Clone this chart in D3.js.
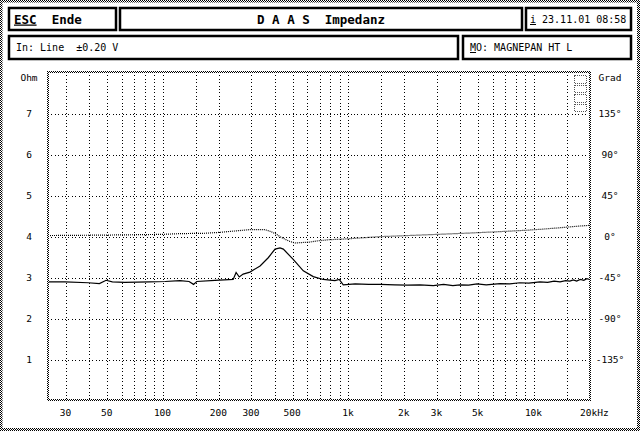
<!DOCTYPE html>
<html><head><meta charset="utf-8">
<script src="https://cdn.jsdelivr.net/npm/d3@7"></script>
<style>
body{margin:0;background:#fff}
svg{display:block}
text{font-family:"DejaVu Sans Mono","Liberation Mono",monospace;fill:#000}
</style>
</head><body>
<svg id="c" width="640" height="431"></svg>
<script>
// ---------- data ----------
const freqTicks = [30, 50, 100, 200, 300, 500, 1000, 2000, 3000, 5000, 10000, 20000];
const freqTickLabels = ["30", "50", "100", "200", "300", "500", "1k", "2k", "3k", "5k", "10k", "20kHz"];
const freqGrid = [30,40,50,60,70,80,90,100,150,200,300,400,500,600,700,800,900,1000,1500,2000,3000,4000,5000,6000,7000,8000,9000,10000,15000];
const ohmTicks = [1, 2, 3, 4, 5, 6, 7];
const degTicks = [135, 90, 45, 0, -45, -90, -135];

const impFreq = [24.3, 30, 40, 46, 50, 54, 63, 86, 104, 125, 140, 148, 154, 193, 242, 251, 261, 274, 298, 338, 374, 407, 433, 451, 510, 578, 654, 740, 856, 903, 949, 1100, 1300, 1500, 1800, 2100, 2460, 2900, 3300, 3700, 4040, 4500, 5000, 5600, 6640, 7500, 8500, 9500, 10900, 12000, 13000, 14000, 15000, 15800, 16500, 17200, 18000, 18800, 19500, 20300];
const impOhm  = [2.88, 2.88, 2.86, 2.84, 2.92, 2.88, 2.87, 2.88, 2.89, 2.91, 2.89, 2.82, 2.89, 2.92, 2.94, 3.11, 3.00, 3.07, 3.12, 3.27, 3.47, 3.68, 3.71, 3.68, 3.43, 3.15, 3.01, 2.94, 2.91, 2.94, 2.81, 2.83, 2.82, 2.82, 2.81, 2.80, 2.81, 2.79, 2.82, 2.79, 2.81, 2.80, 2.83, 2.81, 2.84, 2.83, 2.86, 2.85, 2.88, 2.87, 2.90, 2.88, 2.91, 2.90, 2.93, 2.90, 2.94, 2.92, 2.96, 2.94];

const phFreq = [24.3, 50, 100, 125, 170, 205, 247, 298, 359, 382, 410, 433, 460, 490, 521, 570, 628, 700, 805, 969, 1200, 1497, 2000, 3150, 4500, 6640, 9000, 10900, 13500, 15800, 18000, 20300];
const phDeg  = [0.5, 1.0, 1.8, 2.6, 3.0, 4.0, 5.5, 7.0, 7.0, 5.2, 2.5, -0.7, -3.5, -6.0, -7.7, -7.2, -6.6, -5.2, -4.0, -3.3, -2.0, -0.7, 0.3, 1.9, 3.2, 4.8, 6.2, 7.3, 8.8, 10.0, 11.0, 11.7];

// ---------- layout ----------
const svg = d3.select("#c");
const L = 48, R = 590, T = 72, B = 400;
const x = d3.scaleLog().domain([24.3, 20300]).range([L, R]);
const y = d3.scaleLinear().domain([0, 8]).range([B, T]);
const yDeg = d3.scaleLinear().domain([-180, 180]).range([B, T]);

const defs = svg.append("defs");
const pat = defs.append("pattern").attr("id", "chk").attr("width", 2).attr("height", 2)
  .attr("patternUnits", "userSpaceOnUse");
pat.append("rect").attr("width", 2).attr("height", 2).attr("fill", "#fff");
pat.append("rect").attr("x", 0).attr("y", 0).attr("width", 1).attr("height", 1).attr("fill", "#000");
pat.append("rect").attr("x", 1).attr("y", 1).attr("width", 1).attr("height", 1).attr("fill", "#000");

svg.append("rect").attr("width", 640).attr("height", 431).attr("fill", "#fff");
// outer dithered frame
svg.append("rect").attr("x", 1).attr("y", 1).attr("width", 637.5).attr("height", 428.5)
  .attr("fill", "none").attr("stroke", "url(#chk)").attr("stroke-width", 3);

// ---------- header boxes ----------
function box(x0, y0, x1, y1) {
  svg.append("rect").attr("x", x0).attr("y", y0).attr("width", x1 - x0).attr("height", y1 - y0)
    .attr("fill", "#fff").attr("stroke", "#000").attr("stroke-width", 2.5);
}
box(9, 8, 116, 30);
box(120, 8, 522, 30);
box(526, 8, 631, 30);
box(9, 36, 458, 59);
box(463, 36, 631, 59);

const t1 = svg.append("text").attr("x", 14).attr("y", 23.5).attr("font-size", 12.5).attr("font-weight", "bold");
t1.append("tspan").text("ESC").style("text-decoration", "underline");
t1.append("tspan").attr("xml:space", "preserve").text("  Ende");

svg.append("text").attr("x", 321).attr("y", 23.5).attr("text-anchor", "middle")
  .attr("font-size", 12.5).attr("font-weight", "bold").attr("xml:space", "preserve")
  .text("D A A S  Impedanz");

const t3 = svg.append("text").attr("x", 530).attr("y", 23).attr("font-size", 10);
t3.append("tspan").text("i").style("text-decoration", "underline");
t3.append("tspan").text(" 23.11.01 08:58");

svg.append("text").attr("x", 16).attr("y", 51).attr("font-size", 10).attr("xml:space", "preserve")
  .text("In: Line  \u00B10.20 V");

const t5 = svg.append("text").attr("x", 470).attr("y", 51).attr("font-size", 10);
t5.append("tspan").text("M").style("text-decoration", "underline");
t5.append("tspan").text("O: MAGNEPAN HT L");

// ---------- grid ----------
const gx = svg.append("g").attr("transform", `translate(0,${T})`)
  .call(d3.axisBottom(x).tickValues(freqGrid).tickSize(B - T).tickFormat(""));
gx.select(".domain").remove();
gx.selectAll(".tick line").attr("stroke", "#000").attr("stroke-dasharray", "1,2.4")
  .attr("transform", function(d){ return `translate(${Math.round(x(d)) + 0.5 - x(d)},0)`; })
  .attr("shape-rendering", "crispEdges");

const gy = svg.append("g").attr("transform", `translate(${L},0)`)
  .call(d3.axisRight(y).tickValues(ohmTicks).tickSize(R - L).tickFormat(""));
gy.select(".domain").remove();
gy.selectAll(".tick line").attr("stroke", "#000").attr("stroke-dasharray", "1,2.4")
  .attr("transform", function(d){ return `translate(0,${Math.round(y(d)) + 0.5 - y(d)})`; })
  .attr("shape-rendering", "crispEdges");

// small indicator icon top right
const icon = svg.append("g");
[0, 1, 2, 3].forEach(i => {
  icon.append("rect").attr("x", 574.5).attr("y", 75.5 + i * 9.5).attr("width", 12).attr("height", 7.5)
    .attr("fill", "none").attr("stroke", "#555").attr("stroke-width", 1).attr("stroke-dasharray", "1,1")
    .attr("shape-rendering", "crispEdges");
});

// ---------- curves ----------
const phLine = d3.line().x((d, i) => x(phFreq[i])).y((d, i) => yDeg(phDeg[i])).curve(d3.curveLinear);
svg.append("path").datum(phDeg).attr("d", phLine).attr("fill", "none")
  .attr("stroke", "#000").attr("stroke-width", 1.2).attr("stroke-dasharray", "1,1");

const impLine = d3.line().x((d, i) => x(impFreq[i])).y((d, i) => y(impOhm[i])).curve(d3.curveLinear);
svg.append("path").datum(impOhm).attr("d", impLine).attr("fill", "none")
  .attr("stroke", "#000").attr("stroke-width", 1.2);

// plot frame
svg.append("rect").attr("x", L).attr("y", T).attr("width", R - L).attr("height", B - T)
  .attr("fill", "none").attr("stroke", "url(#chk)").attr("stroke-width", 2);

// ---------- axis labels ----------
const ax = svg.append("g").attr("transform", `translate(0,${B + 6})`)
  .call(d3.axisBottom(x).tickValues(freqTicks).tickSize(0)
    .tickFormat((d, i) => freqTickLabels[i]));
ax.select(".domain").remove();
ax.selectAll("text").attr("font-size", 9.5).attr("dy", "0.71em")
  .style("font-family", "'DejaVu Sans Mono',monospace")
  .attr("dx", (d) => d === 20000 ? 5 : 0);

const al = svg.append("g").attr("transform", "translate(29,0)")
  .call(d3.axisLeft(y).tickValues(ohmTicks).tickSize(0).tickPadding(0));
al.select(".domain").remove();
al.selectAll("text").attr("text-anchor", "middle").attr("font-size", 9.5)
  .style("font-family", "'DejaVu Sans Mono',monospace");
svg.append("text").attr("x", 29).attr("y", 81).attr("text-anchor", "middle").attr("font-size", 9.5).text("Ohm");

const ar = svg.append("g").attr("transform", "translate(610,0)")
  .call(d3.axisRight(yDeg).tickValues(degTicks).tickSize(0).tickPadding(0)
    .tickFormat(d => d + "\u00B0"));
ar.select(".domain").remove();
ar.selectAll("text").attr("text-anchor", "middle").attr("font-size", 9.5)
  .style("font-family", "'DejaVu Sans Mono',monospace");
svg.append("text").attr("x", 610).attr("y", 81).attr("text-anchor", "middle").attr("font-size", 9.5).text("Grad");
</script>
</body></html>
